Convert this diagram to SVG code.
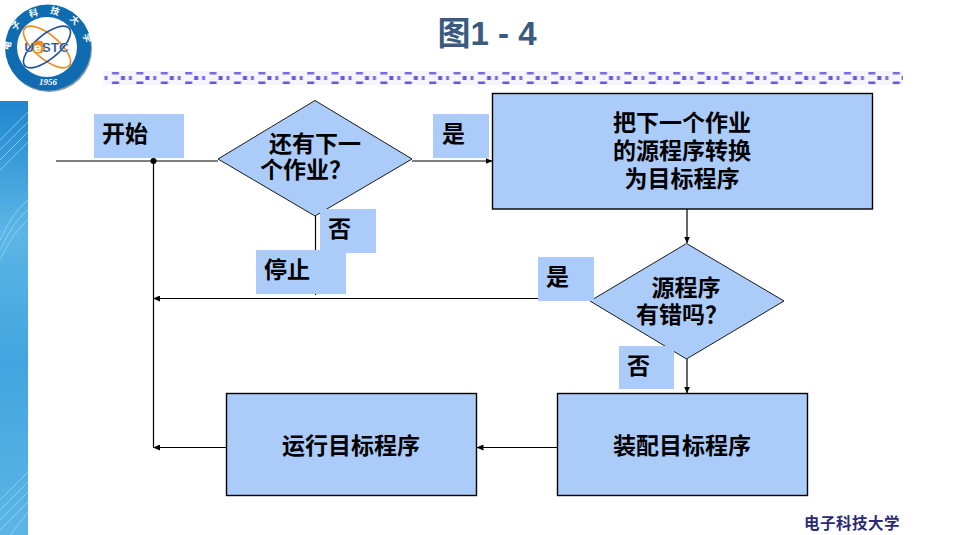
<svg xmlns="http://www.w3.org/2000/svg" width="961" height="535" viewBox="0 0 961 535">
<style>
.box{fill:#abcbf9;stroke:#000;stroke-width:1.4}
.dia{fill:#abcbf9;stroke:#1a1a1a;stroke-width:1}
.lab{fill:#abcbf9}
.t{font-family:"Noto Sans CJK SC","Liberation Sans",sans-serif;font-size:23px;font-weight:700;fill:#000;text-anchor:middle}
.l{text-anchor:start}
.c{fill:none;stroke:#000;stroke-width:1.2}
</style>
<defs>
<marker id="a" markerWidth="7" markerHeight="6" refX="6.5" refY="3" orient="auto" markerUnits="userSpaceOnUse"><path d="M0 0L7 3L0 6Z" fill="#000"/></marker>
<linearGradient id="strip" x1="0" y1="0" x2="0" y2="1"><stop offset="0" stop-color="#1f86cf"/><stop offset="0.3" stop-color="#5cb6e6"/><stop offset="0.6" stop-color="#41a5df"/><stop offset="1" stop-color="#5db5e6"/></linearGradient>
<pattern id="bead" x="103" y="71" width="24.4" height="14" patternUnits="userSpaceOnUse">
<rect width="24.4" height="14" fill="#f6f5fd"/>
<rect x="1.5" y="5" width="3" height="4" fill="#7a68dc"/>
<rect x="9" y="1" width="7" height="2.5" fill="#7a68dc"/>
<rect x="9" y="10.5" width="7" height="2.5" fill="#6a55d8"/>
<rect x="18" y="5" width="4" height="4" fill="#6a55d8"/>
</pattern>
</defs>
<rect width="961" height="535" fill="#fff"/>
<rect id="side-strip" x="0" y="101" width="28" height="434" fill="url(#strip)"/>
<g fill="none" stroke="#9fdcf5" stroke-width="1" opacity="0.7">
<path d="M0 140L28 112M0 150L28 122M0 160L28 132M0 170L28 142M0 240Q14 210 28 200M0 250Q14 220 28 210M0 260Q14 230 28 220M0 500L28 472M0 510L28 482M0 520L28 492M0 530L28 502M10 535L28 512"/>
</g>
<g id="logo">
<circle cx="49" cy="49" r="43" fill="#7f9aa8"/>
<circle cx="48" cy="47.5" r="43" fill="#0f6cb0"/>
<circle cx="47" cy="47" r="30" fill="#fff"/>
<ellipse cx="47" cy="47" rx="29" ry="12" transform="rotate(40 47 47)" fill="none" stroke="#f08a1c" stroke-width="1.6"/>
<ellipse cx="47" cy="47" rx="29" ry="12" transform="rotate(-40 47 47)" fill="none" stroke="#1d4f9c" stroke-width="1.6"/>
<circle cx="39" cy="47" r="6.5" fill="#f08a1c"/>
<text x="46.5" y="52" font-family="Liberation Sans,sans-serif" font-size="13.5" font-weight="700" text-anchor="middle" fill="#1d4f9c" stroke="#fff" stroke-width="0.2">U<tspan fill="#fff">e</tspan>STC</text>
<path id="ring" d="M10 52A38 38 0 0 1 86 52" fill="none"/>
<text font-family="Noto Sans CJK SC,sans-serif" font-size="9" font-weight="700" fill="#fff"><textPath href="#ring" startOffset="1" letter-spacing="11">电子科技大学</textPath></text>
<text x="48" y="85" font-family="Liberation Serif,serif" font-size="9" font-style="italic" font-weight="700" text-anchor="middle" fill="#fff">1956</text>
</g>
<rect id="bead-rule" x="103" y="71" width="800" height="14" fill="url(#bead)"/>
<text id="title" x="487" y="45" font-family="Liberation Sans,Noto Sans CJK SC,sans-serif" font-size="33" font-weight="700" text-anchor="middle" fill="#3a5a80" xml:space="preserve"><tspan font-family="Noto Sans CJK SC,sans-serif">图</tspan>1 - 4</text>
<g id="connectors">
<path class="c" d="M56 161H218"/>
<circle cx="153.500" cy="161" r="3" fill="#000"/>
<path class="c" d="M153.500 161V447.500"/>
<path class="c" d="M412 161H492" marker-end="url(#a)"/>
<path class="c" d="M315.500 216V295" stroke="#555"/>
<path class="c" d="M687 209V243" marker-end="url(#a)"/>
<path class="c" d="M590 298.500H153.500" marker-end="url(#a)"/>
<path class="c" d="M687 359V393" marker-end="url(#a)"/>
<path class="c" d="M557 447.500H477" marker-end="url(#a)"/>
<path class="c" d="M226 447.500H153.500" marker-end="url(#a)"/>
</g>
<g id="n-decision1"><polygon class="dia" points="218,159 315,100.500 412,159 315,216"/><text class="t" x="315" y="152">还有下一</text><text class="t" x="306" y="178">个作业？</text></g>
<g id="n-compile"><rect class="box" x="492.500" y="93.500" width="380" height="115.500"/><text class="t" x="682" y="131">把下一个作业</text><text class="t" x="682" y="159">的源程序转换</text><text class="t" x="682" y="187">为目标程序</text></g>
<g id="n-decision2"><polygon class="dia" points="590,301 686.500,243.500 784,301 686.500,359"/><text class="t" x="686" y="296">源程序</text><text class="t" x="682" y="323">有错吗？</text></g>
<g id="n-assemble"><rect class="box" x="557.500" y="393.500" width="250" height="102"/><text class="t" x="682" y="454">装配目标程序</text></g>
<g id="n-run"><rect class="box" x="226.500" y="393.500" width="250" height="102"/><text class="t" x="351" y="454">运行目标程序</text></g>
<g id="l-start"><rect class="lab" x="94" y="114" width="90" height="44"/><text class="t l" x="102" y="142">开始</text></g>
<g id="l-yes1"><rect class="lab" x="433" y="114" width="56" height="44"/><text class="t l" x="442" y="142">是</text></g>
<g id="l-no1"><rect class="lab" x="320" y="209" width="56" height="44"/><text class="t l" x="328" y="237">否</text></g>
<g id="l-stop"><rect class="lab" x="256" y="250" width="90" height="44"/><text class="t l" x="264" y="278">停止</text></g>
<g id="l-yes2"><rect class="lab" x="538" y="257" width="56" height="44"/><text class="t l" x="546" y="285">是</text></g>
<g id="l-no2"><rect class="lab" x="619" y="346" width="55" height="43"/><text class="t l" x="627" y="374">否</text></g>
<text id="footer" x="852" y="529" font-family="Noto Sans CJK SC,serif" font-size="15.500" font-weight="700" text-anchor="middle" fill="#2a2a78" letter-spacing="0.500">电子科技大学</text>
</svg>
